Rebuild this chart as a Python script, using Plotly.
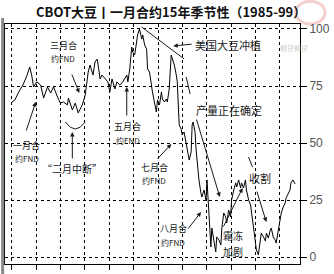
import plotly.graph_objects as go

# ---- data (x in months from start of season, y = seasonal index 0-100) ----
month_pos = [-0.04, 0.12, 0.28, 0.45, 0.61, 0.73, 0.81, 0.89, 1.02, 1.18, 1.30, 1.46, 1.59, 1.71,
             1.87, 1.99, 2.11, 2.28, 2.32, 2.48, 2.60, 2.72, 2.89, 3.01, 3.09, 3.13, 3.21, 3.33,
             3.41, 3.50, 3.54, 3.62, 3.70, 3.82, 3.94, 4.02, 4.11, 4.23, 4.31, 4.43, 4.55, 4.72,
             4.76, 4.84, 4.92, 4.96, 5.04, 5.12, 5.16, 5.24, 5.33, 5.37, 5.45, 5.53, 5.57, 5.65,
             5.73, 5.77, 5.85, 5.93, 5.98, 6.06, 6.14, 6.18, 6.26, 6.34, 6.38, 6.46, 6.54, 6.59,
             6.67, 6.75, 6.79, 6.83, 6.87, 6.95, 6.99, 7.07, 7.15, 7.20, 7.28, 7.36, 7.40, 7.44,
             7.52, 7.56, 7.64, 7.68, 7.76, 7.80, 7.89, 7.97, 8.01, 8.05, 8.09, 8.17, 8.21, 8.29,
             8.37, 8.41, 8.50, 8.58, 8.62, 8.70, 8.78, 8.82, 8.90, 8.98, 9.02, 9.11, 9.19, 9.23,
             9.31, 9.39, 9.43, 9.51, 9.59, 9.63, 9.72, 9.80, 9.84, 9.92, 10.00, 10.04, 10.12,
             10.20, 10.24, 10.33, 10.41, 10.45, 10.53, 10.61, 10.65, 10.73, 10.81, 10.85, 10.93,
             11.02, 11.06, 11.14, 11.22, 11.26, 11.34, 11.42, 11.46, 11.54, 11.63]
seasonal_index = [67.5, 68.9, 72.4, 75.4, 79.4, 83.3, 79.8, 74.6, 76.8, 75.4, 69.7, 74.6, 71.9, 74.6,
                  70.2, 67.5, 68.0, 66.7, 69.7, 64.5, 67.5, 63.2, 66.7, 71.1, 77.6, 81.1, 84.2, 79.8,
                  85.5, 86.8, 84.2, 78.1, 79.8, 78.1, 76.8, 72.4, 78.1, 73.7, 76.8, 75.4, 76.8, 79.8,
                  76.8, 82.5, 92.1, 89.9, 88.6, 94.3, 97.4, 100.0, 95.6, 97.4, 93.0, 91.2, 82.5, 81.1,
                  73.7, 72.4, 68.0, 63.6, 68.9, 66.7, 72.4, 69.3, 68.0, 69.3, 68.0, 73.7, 88.6, 86.8,
                  84.2, 79.8, 76.8, 66.7, 57.9, 56.1, 53.5, 54.8, 50.4, 47.4, 42.5, 46.1, 57.9, 59.2,
                  54.8, 47.4, 38.2, 33.8, 28.1, 26.3, 29.4, 25.0, 33.8, 25.0, 15.4, 4.4, 12.7, 7.5,
                  2.2, 8.8, 7.5, 5.3, 12.7, 19.3, 17.5, 14.9, 20.6, 17.5, 25.0, 29.4, 32.5, 30.7,
                  33.8, 30.3, 32.5, 30.3, 33.8, 29.4, 25.0, 22.8, 19.7, 12.7, 7.5, 3.1, 0.9,
                  6.1, 10.5, 8.8, 7.0, 10.5, 8.3, 11.8, 12.7, 8.8, 7.5, 6.1, 11.0,
                  17.5, 19.3, 21.9, 23.7, 25.9, 28.1, 29.4, 32.5, 33.8, 32.0]
y_ticks = [0, 25, 50, 75, 100]
month_ticks = list(range(12))

title_text = "CBOT大豆丨一月合约15年季节性（1985-99）"

CJK = "Noto Sans CJK SC"


def P(px, py):
    """convert a picture position (annotation placement only) to axis coords"""
    return (px - 11) / 24.6, (257 - py) / 2.28


fig = go.Figure()
fig.add_trace(go.Scatter(x=month_pos, y=seasonal_index, mode="lines",
                         line=dict(color="black", width=1), hoverinfo="skip"))

labels = [
    ("三月合", 63, 46, 9), ("约FND", 63, 59, 8),
    ("一月合", 26, 145, 9), ("约FND", 26, 158, 8),
    ("“二月中断”", 72, 168, 10),
    ("五月合", 128, 126, 9), ("约FND", 128, 140, 8),
    ("七月合", 155, 167, 9), ("约FND", 155, 180, 8),
    ("八月合", 174, 228, 9), ("约FND", 174, 242, 8),
    ("美国大豆冲植", 229, 45, 11),
    ("产量正在确定", 230, 110, 11),
    ("霜冻", 234, 235, 10), ("加剧", 234, 251, 10),
    ("收割", 262, 178, 11),
]
for t, px, py, fs in labels:
    x, y = P(px, py)
    fig.add_annotation(x=x, y=y, text=t, showarrow=False, xref="x", yref="y",
                       font=dict(family=CJK, size=fs, color="#1a1a1a"),
                       align="center", borderpad=0)

arrows = [
    ((71, 73), (79, 93)),
    ((25, 132), (35, 102)),
    ((72, 160), (72, 132)),
    ((127, 117), (127, 87)),
    ((157, 160), (172, 144)),
    ((188, 230), (202, 212)),
    ((194, 44), (174, 46)),
    ((197, 118), (221, 197)),
    ((224, 228), (244, 188)),
    ((258, 190), (268, 222)),
]
for (tx, ty), (hx, hy) in arrows:
    ax_, ay_ = P(tx, ty)
    x, y = P(hx, hy)
    fig.add_annotation(x=x, y=y, ax=ax_, ay=ay_, xref="x", yref="y", axref="x", ayref="y",
                       text="", showarrow=True, arrowhead=2, arrowsize=0.9, arrowwidth=1,
                       arrowcolor="#1a1a1a")

segments = [((142, 27), (185, 59)), ((187, 77), (191, 94)), ((250, 157), (254, 167))]
for (x0p, y0p), (x1p, y1p) in segments:
    x0, y0 = P(x0p, y0p)
    x1, y1 = P(x1p, y1p)
    fig.add_shape(type="line", x0=x0, y0=y0, x1=x1, y1=y1, xref="x", yref="y",
                  line=dict(color="#1a1a1a", width=1))

# smile arc for "二月中断"
a0 = P(65, 122); a1 = P(75, 136); a2 = P(85, 122)
fig.add_shape(type="path", xref="x", yref="y",
              path=f"M {a0[0]},{a0[1]} Q {a1[0]},{a1[1]} {a2[0]},{a2[1]}",
              line=dict(color="#1a1a1a", width=1))

# left gray border
fig.add_shape(type="line", xref="paper", yref="paper", x0=-0.008, x1=-0.008, y0=-0.05, y1=1.025,
              line=dict(color="#8a8a8a", width=3))

# faint watermark logo
fig.add_shape(type="circle", xref="paper", yref="paper", x0=0.985, x1=1.085, y0=1.0, y1=1.095,
              line=dict(color="rgba(230,150,150,0.45)", width=3), layer="below")
fig.add_annotation(xref="paper", yref="paper", x=1.035, y=0.93, text="期货期货", showarrow=False,
                   font=dict(family=CJK, size=7, color="rgba(170,170,170,0.6)"))

# title
fig.add_annotation(xref="paper", yref="paper", x=(33 - 4) / 298, y=1 + 12 / 240,
                   xanchor="left", yanchor="middle", text=title_text, showarrow=False,
                   font=dict(family=CJK, size=13, color="#111", weight="bold"))

fig.update_layout(
    width=334, height=274,
    margin=dict(l=4, r=32, t=24, b=10),
    paper_bgcolor="white", plot_bgcolor="white",
    showlegend=False,
    xaxis=dict(range=[-0.285, 11.83], tickvals=month_ticks, showticklabels=False,
               ticks="outside", ticklen=5, tickcolor="black", tickwidth=1,
               showgrid=True, gridcolor="black", griddash="dot", gridwidth=1,
               showline=True, linecolor="black", linewidth=1, mirror=True, zeroline=False),
    yaxis=dict(range=[-3.07, 102.19], tickvals=y_ticks, side="right",
               ticks="outside", ticklen=6, tickcolor="black", tickwidth=1,
               tickfont=dict(family="Liberation Sans", size=12, color="#555"),
               showgrid=True, gridcolor="black", griddash="dot", gridwidth=1,
               showline=True, linecolor="black", linewidth=1, mirror=True, zeroline=False),
)

fig.write_html("out.html")
